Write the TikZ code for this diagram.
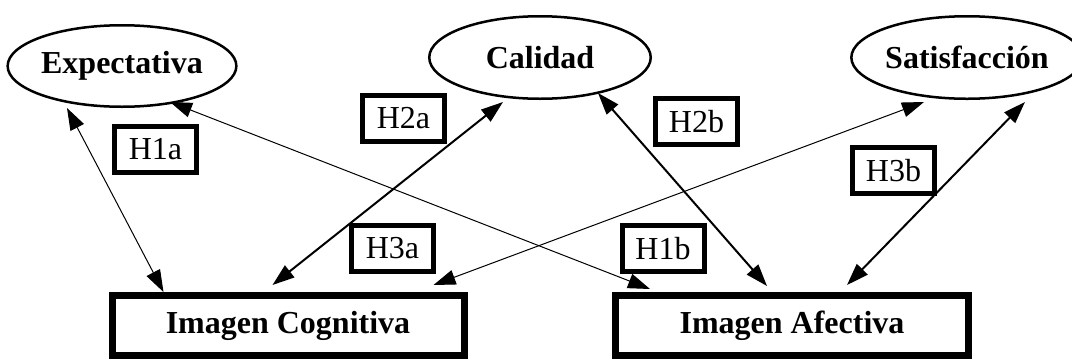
\documentclass[tikz,border=0pt]{standalone}
\usepackage{fontspec}
\setmainfont{Liberation Serif}
\usetikzlibrary{arrows.meta,shapes.geometric}
\begin{document}
\begin{tikzpicture}[x=1pt,y=-1pt,
  construct/.style={ellipse, draw, line width=2.5pt, inner sep=0pt, font=\fontsize{32}{38}\selectfont\bfseries},
  imagebox/.style={rectangle, draw, line width=7pt, inner sep=0pt, minimum height=60pt, font=\fontsize{32}{38}\selectfont\bfseries},
  hyp/.style={rectangle, draw, line width=5pt, inner sep=0pt, minimum width=82pt, minimum height=46pt, font=\fontsize{32}{38}\selectfont},
  link/.style={{Triangle[length=22pt,width=15pt]}-{Triangle[length=22pt,width=15pt]}, line width=1pt},
  strong/.style={link, line width=2pt}]
\useasboundingbox (0,0) rectangle (1072,360);

\node[construct, minimum width=217.5pt, minimum height=81.5pt] (exp) at (122,66) {Expectativa};
\node[construct, minimum width=221.5pt, minimum height=82.5pt] (cal) at (540,57.5) {Calidad};
\node[construct, minimum width=215.5pt, minimum height=82.5pt] (sat) at (967,57.5) {Satisfacción};
\node[imagebox, minimum width=352pt] (cog) at (288,325.5) {Imagen Cognitiva};
\node[imagebox, minimum width=353pt] (afe) at (792,325.5) {Imagen Afectiva};

\node[hyp] (h1a) at (155.5,149) {H1a};
\node[hyp] (h2a) at (403.5,118) {H2a};
\node[hyp] (h2b) at (696.5,121.5) {H2b};
\node[hyp] (h3b) at (893.5,170.5) {H3b};
\node[hyp] (h3a) at (392.5,248.5) {H3a};
\node[hyp] (h1b) at (663,248.5) {H1b};

\draw[link] ([shift={(-55,42)}]exp.center) -- ([shift={(55,0)}]cog.north west);
\draw[link] ([shift={(48,36)}]exp.center) -- ([shift={(38,-3)}]afe.north west);
\draw[strong] ([shift={(-37,44.5)}]cal.center) -- ([shift={(164,-7)}]cog.north west);
\draw[strong] ([shift={(58,35.5)}]cal.center) -- ([shift={(155,-6)}]afe.north west);
\draw[link] ([shift={(-43,44.5)}]sat.center) -- ([shift={(325,-7)}]cog.north west);
\draw[strong] ([shift={(58,44.5)}]sat.center) -- ([shift={(235,-7)}]afe.north west);
\end{tikzpicture}
\end{document}
